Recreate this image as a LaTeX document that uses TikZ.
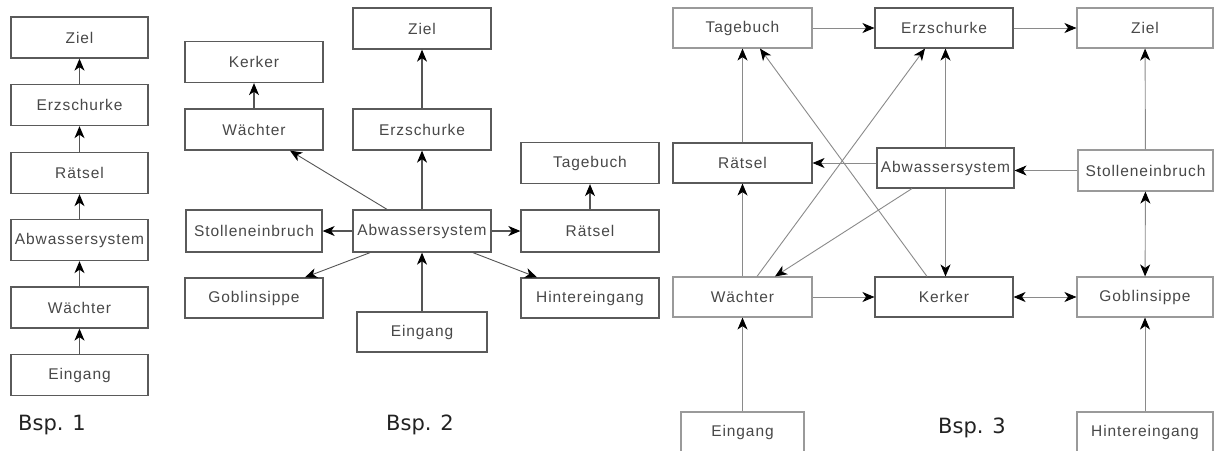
\documentclass[tikz,border=0pt]{standalone}
\usepackage{fontspec}
\setmainfont{Liberation Sans}
\newfontfamily\labfont{DejaVu Sans}
\usetikzlibrary{arrows.meta}
\definecolor{boxc}{HTML}{5A5A5A}
\definecolor{boxl}{HTML}{9A9A9A}
\definecolor{txtc}{HTML}{484848}
\definecolor{linec}{HTML}{555555}
\definecolor{linel}{HTML}{8A8A8A}
\definecolor{labc}{HTML}{222222}
\begin{document}
\begin{tikzpicture}[x=1pt,y=-1pt,
  box/.style={draw=boxc, line width=1.3pt, minimum width=137pt, minimum height=41pt,
    inner sep=0pt, text=txtc, font=\fontsize{15.5}{15.5}\selectfont\addfontfeature{LetterSpace=6}},
  lbox/.style={box, draw=boxl, line width=1.1pt, minimum height=40pt},
  con/.style={draw=linec, line width=1.1pt, -{Stealth[length=12pt,width=10pt,inset=3.5pt,color=black,fill=black]}},
  lcon/.style={con, draw=linel, line width=0.9pt},
  bcon/.style={lcon, {Stealth[length=12pt,width=10pt,inset=3.5pt,color=black,fill=black]}-{Stealth[length=12pt,width=10pt,inset=3.5pt,color=black,fill=black]}},
  lab/.style={text=labc, font=\labfont\fontsize{21}{21}\selectfont, inner sep=0pt}
]
\useasboundingbox[fill=white] (0,0) rectangle (1215,450);

% ---------- Bsp. 1 ----------
\node[box] (z1) at (79.5,37.5) {Ziel};
\node[box] (e1) at (79.5,105) {Erzschurke};
\node[box] (r1) at (79.5,173) {Rätsel};
\node[box] (a1) at (79.5,240) {Abwassersystem};
\node[box] (w1) at (79.5,307.5) {Wächter};
\node[box] (i1) at (79.5,375) {Eingang};
\draw[con] (i1) -- (w1);
\draw[con] (w1) -- (a1);
\draw[con] (a1) -- (r1);
\draw[con] (r1) -- (e1);
\draw[con] (e1) -- (z1);
\node[lab] (l1) at (52,425) {Bsp. 1};

% ---------- Bsp. 2 ----------
\node[box, minimum width=138pt] (z2) at (422,28.5) {Ziel};
\node[box, minimum width=138pt] (k2) at (254,62) {Kerker};
\node[box, minimum width=138pt] (w2) at (254,129.5) {Wächter};
\node[box, minimum width=138pt] (e2) at (422,129.5) {Erzschurke};
\node[box, minimum width=138pt] (t2) at (590,163) {Tagebuch};
\node[box, minimum width=136pt, minimum height=42pt] (s2) at (254,231) {Stolleneinbruch};
\node[box, minimum width=138pt, minimum height=42pt] (a2) at (422,231) {Abwassersystem};
\node[box, minimum width=138pt, minimum height=42pt] (r2) at (590,231) {Rätsel};
\node[box, minimum width=138pt, minimum height=40pt] (g2) at (254,298) {Goblinsippe};
\node[box, minimum width=138pt, minimum height=40pt] (h2) at (590,298) {Hintereingang};
\node[box, minimum width=130pt, minimum height=40pt] (i2) at (422,332) {Eingang};
\draw[con] (i2) -- (a2);
\draw[con] (a2) -- (e2);
\draw[con] (e2) -- (z2);
\draw[con] (w2) -- (k2);
\draw[con] (r2) -- (t2);
\draw[con] (a2) -- (s2);
\draw[con] (a2) -- (r2);
\draw[con, line width=0.9pt] ([xshift=-35pt]a2.north) -- ([xshift=36pt]w2.south);
\draw[con, line width=0.9pt] ([xshift=-52pt]a2.south) -- ([xshift=51pt]g2.north);
\draw[con, line width=0.9pt] ([xshift=51pt]a2.south) -- ([xshift=-53pt]h2.north);
\node[lab] (l2) at (420,425) {Bsp. 2};

% ---------- Bsp. 3 ----------
\node[lbox, minimum width=139pt] (t3) at (742.5,28) {Tagebuch};
\node[box, minimum width=138pt, minimum height=40pt, line width=1.1pt] (e3) at (944,28) {Erzschurke};
\node[lbox, minimum width=136pt] (z3) at (1145,28) {Ziel};
\node[box, minimum width=139pt, minimum height=40pt, line width=1.1pt] (r3) at (742.5,163) {Rätsel};
\node[box, minimum width=137pt, minimum height=40pt, line width=1.1pt] (a3) at (945.5,168) {Abwassersystem};
\node[lbox, minimum width=135pt, minimum height=41pt] (s3) at (1145.5,170.5) {Stolleneinbruch};
\node[lbox, minimum width=139pt] (w3) at (742.5,297) {Wächter};
\node[box, minimum width=138pt, minimum height=40pt, line width=1.1pt] (k3) at (944,297) {Kerker};
\node[lbox, minimum width=136pt] (g3) at (1145,297) {Goblinsippe};
\node[lbox, minimum width=123pt] (i3) at (742.5,432) {Eingang};
\node[lbox, minimum width=136pt] (h3) at (1145,432) {Hintereingang};
\draw[lcon] (t3) -- (e3);
\draw[lcon] (e3) -- (z3);
\draw[lcon] (r3) -- (t3);
\draw[lcon] (w3) -- (r3);
\draw[lcon] (i3) -- (w3);
\draw[lcon] (w3) -- (k3);
\draw[bcon] (k3) -- (g3);
\draw[bcon] (s3) -- (g3);
\draw[lcon] (h3) -- (g3);
\draw[lcon] (s3) -- (z3);
\draw[lcon] (s3.west) -- (s3.west -| a3.east);
\draw[lcon] (a3.west |- r3.east) -- (r3.east);
\draw[lcon] (a3.north) -- (a3.north |- e3.south);
\draw[lcon] (a3.south) -- (a3.south |- k3.north);
\draw[lcon] ([xshift=-17pt]k3.north) -- ([xshift=17.5pt]t3.south);
\draw[lcon] ([xshift=14.5pt]w3.north) -- ([xshift=-19pt]e3.south);
\draw[lcon] ([xshift=-33.5pt]a3.south) -- ([xshift=32.5pt]w3.north);
\node[lab] (l3) at (972,428) {Bsp. 3};
\end{tikzpicture}
\end{document}
